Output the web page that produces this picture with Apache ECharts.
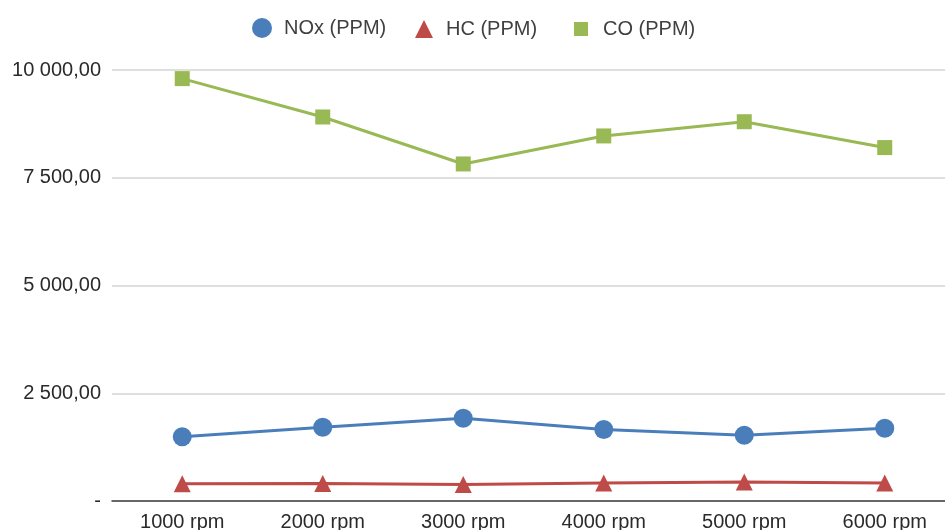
<!DOCTYPE html>
<html>
<head>
<meta charset="utf-8">
<script src="https://cdn.jsdelivr.net/npm/echarts@6/dist/echarts.min.js"></script>
<style>html,body{margin:0;padding:0;background:#fff}#c{width:945px;height:530px}</style>
</head>
<body>
<div id="c"></div>
<script>
var categories = ['1000 rpm', '2000 rpm', '3000 rpm', '4000 rpm', '5000 rpm', '6000 rpm'];
var noxValues = [1490, 1710, 1920, 1660, 1525, 1690];
var hcValues = [400, 405, 380, 420, 440, 420];
var coValues = [9800, 8910, 7820, 8470, 8800, 8200];
var seriesNames = ['NOx (PPM)', 'HC (PPM)', 'CO (PPM)'];

function fmt(v) {
  if (v === 0) return '-';
  var s = v.toFixed(2).split('.');
  var intPart = s[0].replace(/\B(?=(\d{3})+(?!\d))/g, ' ');
  return intPart + ',' + s[1];
}

var chart = echarts.init(document.getElementById('c'), null, {renderer: 'canvas'});
var font = 'Liberation Sans, Arial, sans-serif';
function legendFor(i, icon, top, left, w, h, pad) {
  return {
    top: top,
    left: left,
    itemWidth: w,
    itemHeight: h,
    padding: 0,
    textStyle: {fontSize: 20, color: '#404040', fontFamily: font, padding: [0, 0, 0, pad]},
    data: [{name: seriesNames[i], icon: icon}]
  };
}
chart.setOption({
  animation: false,
  textStyle: {fontFamily: font},
  legend: [
    legendFor(0, 'circle', 18, 252, 20, 20, 7),
    legendFor(1, 'triangle', 19, 415, 18, 18, 8),
    legendFor(2, 'rect', 19, 574, 14, 14, 10)
  ],
  grid: {left: 112, width: 843, top: 70, bottom: 29, containLabel: false, outerBoundsMode: 'none'},
  xAxis: {
    type: 'category',
    data: categories,
    boundaryGap: true,
    axisLine: {lineStyle: {color: '#404040', width: 1.5}},
    axisTick: {show: false},
    axisLabel: {fontSize: 20, color: '#2a2a2a', margin: 11, fontFamily: font}
  },
  yAxis: {
    type: 'value',
    min: 0,
    max: 10000,
    interval: 2500,
    axisLine: {show: false},
    axisTick: {show: false},
    splitLine: {lineStyle: {color: '#d4d4d4', width: 1.5}},
    axisLabel: {fontSize: 20, color: '#2a2a2a', margin: 11, formatter: fmt, fontFamily: font}
  },
  series: [
    {name: seriesNames[0], type: 'line', data: noxValues, symbol: 'circle', symbolSize: 19,
     lineStyle: {width: 3, color: '#4a7ebb'}, itemStyle: {color: '#4a7ebb'}},
    {name: seriesNames[1], type: 'line', data: hcValues, symbol: 'triangle', symbolSize: 17,
     lineStyle: {width: 3, color: '#be4b48'}, itemStyle: {color: '#be4b48'}},
    {name: seriesNames[2], type: 'line', data: coValues, symbol: 'rect', symbolSize: 15,
     lineStyle: {width: 3, color: '#98b954'}, itemStyle: {color: '#98b954'}}
  ]
});
</script>
</body>
</html>
